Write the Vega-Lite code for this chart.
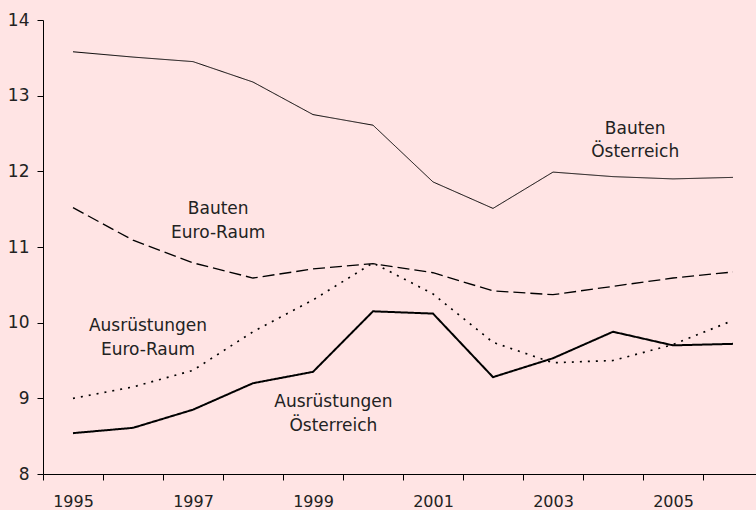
{
  "$schema": "https://vega.github.io/schema/vega-lite/v6.json",
  "width": 713,
  "height": 454,
  "autosize": {"type": "none"},
  "padding": {"left": 43, "top": 20, "right": 0, "bottom": 36},
  "background": "#FFE4E4",
  "config": {"view": {"stroke": null}, "font": "DejaVu Sans"},
  "datasets": {
    "series": [
      {"series": "Bauten Österreich", "year": 1995, "value": 13.58},
      {"series": "Bauten Österreich", "year": 1996, "value": 13.51},
      {"series": "Bauten Österreich", "year": 1997, "value": 13.45},
      {"series": "Bauten Österreich", "year": 1998, "value": 13.18},
      {"series": "Bauten Österreich", "year": 1999, "value": 12.75},
      {"series": "Bauten Österreich", "year": 2000, "value": 12.61},
      {"series": "Bauten Österreich", "year": 2001, "value": 11.86},
      {"series": "Bauten Österreich", "year": 2002, "value": 11.51},
      {"series": "Bauten Österreich", "year": 2003, "value": 11.99},
      {"series": "Bauten Österreich", "year": 2004, "value": 11.93},
      {"series": "Bauten Österreich", "year": 2005, "value": 11.90},
      {"series": "Bauten Österreich", "year": 2006, "value": 11.92},
      {"series": "Bauten Euro-Raum", "year": 1995, "value": 11.52},
      {"series": "Bauten Euro-Raum", "year": 1996, "value": 11.09},
      {"series": "Bauten Euro-Raum", "year": 1997, "value": 10.79},
      {"series": "Bauten Euro-Raum", "year": 1998, "value": 10.59},
      {"series": "Bauten Euro-Raum", "year": 1999, "value": 10.71},
      {"series": "Bauten Euro-Raum", "year": 2000, "value": 10.78},
      {"series": "Bauten Euro-Raum", "year": 2001, "value": 10.66},
      {"series": "Bauten Euro-Raum", "year": 2002, "value": 10.42},
      {"series": "Bauten Euro-Raum", "year": 2003, "value": 10.37},
      {"series": "Bauten Euro-Raum", "year": 2004, "value": 10.48},
      {"series": "Bauten Euro-Raum", "year": 2005, "value": 10.59},
      {"series": "Bauten Euro-Raum", "year": 2006, "value": 10.67},
      {"series": "Ausrüstungen Euro-Raum", "year": 1995, "value": 9.00},
      {"series": "Ausrüstungen Euro-Raum", "year": 1996, "value": 9.15},
      {"series": "Ausrüstungen Euro-Raum", "year": 1997, "value": 9.37},
      {"series": "Ausrüstungen Euro-Raum", "year": 1998, "value": 9.88},
      {"series": "Ausrüstungen Euro-Raum", "year": 1999, "value": 10.30},
      {"series": "Ausrüstungen Euro-Raum", "year": 2000, "value": 10.79},
      {"series": "Ausrüstungen Euro-Raum", "year": 2001, "value": 10.38},
      {"series": "Ausrüstungen Euro-Raum", "year": 2002, "value": 9.74},
      {"series": "Ausrüstungen Euro-Raum", "year": 2003, "value": 9.47},
      {"series": "Ausrüstungen Euro-Raum", "year": 2004, "value": 9.50},
      {"series": "Ausrüstungen Euro-Raum", "year": 2005, "value": 9.71},
      {"series": "Ausrüstungen Euro-Raum", "year": 2006, "value": 10.03},
      {"series": "Ausrüstungen Österreich", "year": 1995, "value": 8.54},
      {"series": "Ausrüstungen Österreich", "year": 1996, "value": 8.61},
      {"series": "Ausrüstungen Österreich", "year": 1997, "value": 8.85},
      {"series": "Ausrüstungen Österreich", "year": 1998, "value": 9.20},
      {"series": "Ausrüstungen Österreich", "year": 1999, "value": 9.35},
      {"series": "Ausrüstungen Österreich", "year": 2000, "value": 10.15},
      {"series": "Ausrüstungen Österreich", "year": 2001, "value": 10.12},
      {"series": "Ausrüstungen Österreich", "year": 2002, "value": 9.28},
      {"series": "Ausrüstungen Österreich", "year": 2003, "value": 9.53},
      {"series": "Ausrüstungen Österreich", "year": 2004, "value": 9.88},
      {"series": "Ausrüstungen Österreich", "year": 2005, "value": 9.70},
      {"series": "Ausrüstungen Österreich", "year": 2006, "value": 9.72}
    ],
    "labels": [
      {"year": 2004.37, "value": 12.56, "label": "Bauten\nÖsterreich"},
      {"year": 1997.42, "value": 11.50, "label": "Bauten\nEuro-Raum"},
      {"year": 1996.25, "value": 9.95, "label": "Ausrüstungen\nEuro-Raum"},
      {"year": 1999.34, "value": 8.95, "label": "Ausrüstungen\nÖsterreich"}
    ]
  },
  "encoding": {
    "x": {
      "field": "year",
      "type": "quantitative",
      "scale": {"domain": [1994.5, 2006.3833], "nice": false, "zero": false},
      "axis": {
        "title": null,
        "grid": false,
        "values": [1994.5, 1995.5, 1996.5, 1997.5, 1998.5, 1999.5, 2000.5, 2001.5, 2002.5, 2003.5, 2004.5, 2005.5],
        "labelExpr": "(datum.value + 0.5) % 2 == 1 ? format(datum.value + 0.5, 'd') : ''",
        "labelOffset": 30,
        "labelFlush": false,
        "labelOverlap": false,
        "tickSize": 6,
        "labelPadding": 13,
        "labelFontSize": 16,
        "labelFontWeight": "normal",
        "labelColor": "#222222",
        "domainColor": "#000000",
        "tickColor": "#000000"
      }
    },
    "y": {
      "field": "value",
      "type": "quantitative",
      "scale": {"domain": [8, 14], "nice": false, "zero": false},
      "axis": {
        "title": null,
        "grid": false,
        "values": [8, 9, 10, 11, 12, 13, 14],
        "format": "d",
        "tickSize": 6,
        "labelPadding": 8,
        "labelFontSize": 17,
        "labelFontWeight": "normal",
        "labelColor": "#222222",
        "domainColor": "#000000",
        "tickColor": "#000000"
      }
    }
  },
  "layer": [
    {
      "data": {"name": "series"},
      "mark": {"type": "line", "color": "#000000"},
      "encoding": {
        "detail": {"field": "series"},
        "strokeWidth": {
          "field": "series",
          "type": "nominal",
          "scale": {
            "domain": ["Bauten Österreich", "Bauten Euro-Raum", "Ausrüstungen Euro-Raum", "Ausrüstungen Österreich"],
            "range": [1, 2, 2, 2]
          },
          "legend": null
        },
        "strokeDash": {
          "field": "series",
          "type": "nominal",
          "scale": {
            "domain": ["Bauten Österreich", "Bauten Euro-Raum", "Ausrüstungen Euro-Raum", "Ausrüstungen Österreich"],
            "range": [[1, 0], [12, 5], [2, 6], [1, 0]]
          },
          "legend": null
        }
      }
    },
    {
      "data": {"name": "labels"},
      "mark": {"type": "text", "lineBreak": "\n", "fontSize": 17, "lineHeight": 23.5, "color": "#222222", "align": "center", "baseline": "middle"},
      "encoding": {
        "text": {"field": "label"}
      }
    }
  ]
}
